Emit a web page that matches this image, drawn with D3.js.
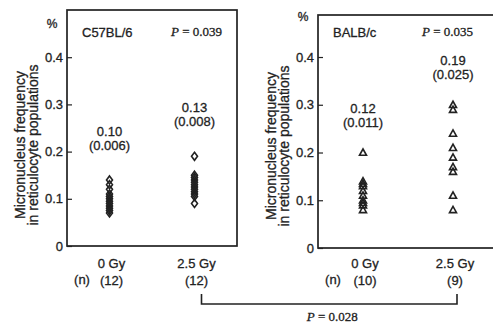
<!DOCTYPE html>
<html>
<head>
<meta charset="utf-8">
<script src="https://cdn.jsdelivr.net/npm/d3@7"></script>
<style>
	body { margin: 0; background: #fff; }
	svg { display: block; font-family: 'Liberation Sans', Arial, sans-serif; }
	svg text { stroke: #222; stroke-width: 0.3px; }
	.serif { font-family: 'Liberation Serif', 'Times New Roman', serif; }
</style>
</head>
<body>
<div id="chart"></div>
<script>
// Data
const doses = ['0 Gy', '2.5 Gy'];
const yTicks = [0, 0.1, 0.2, 0.3, 0.4];

const c57Control = [0.07, 0.075, 0.08, 0.085, 0.09, 0.095, 0.1, 0.105, 0.11, 0.12, 0.13, 0.14];
const c57Irradiated = [0.09, 0.105, 0.11, 0.115, 0.12, 0.125, 0.13, 0.135, 0.14, 0.145, 0.15, 0.19];
const c57Means = ['0.10', '0.13'];
const c57SDs = ['(0.006)', '(0.008)'];
const c57N = ['(12)', '(12)'];

const balbControl = [0.08, 0.09, 0.095, 0.1, 0.11, 0.12, 0.13, 0.135, 0.14, 0.2];
const balbIrradiated = [0.08, 0.11, 0.16, 0.17, 0.19, 0.21, 0.24, 0.29, 0.3];
const balbMeans = ['0.12', '0.19'];
const balbSDs = ['(0.011)', '(0.025)'];
const balbN = ['(10)', '(9)'];

const W = 493, H = 329;
const ink = '#222';

const svg = d3.select('#chart').append('svg').attr('width', W).attr('height', H);

// Draw one panel (strain)
function drawPanel(opt) {
	const g = svg.append('g');
	const x = d3.scalePoint().domain(doses).range([opt.left, opt.right]).padding(0.5);
	const y = d3.scaleLinear().domain([0, opt.yMax]).range([opt.bottom, opt.top]);

	// Frame
	g.append('rect')
		.attr('x', opt.left).attr('y', opt.top)
		.attr('width', opt.right - opt.left).attr('height', opt.bottom - opt.top)
		.attr('fill', 'none').attr('stroke', ink).attr('stroke-width', 1.7);

	// Y axis - inward ticks
	const axis = g.append('g')
		.attr('transform', `translate(${opt.left},0)`)
		.call(d3.axisRight(y).tickValues(yTicks).tickSize(5).tickFormat(''));
	axis.select('.domain').remove();
	axis.selectAll('line').attr('stroke', ink).attr('stroke-width', 1.2);

	g.selectAll('.ylab').data(yTicks).enter().append('text')
		.attr('x', opt.left - 4).attr('y', (d) => y(d)).attr('dy', '0.36em')
		.attr('text-anchor', 'end').attr('font-size', 13).attr('fill', ink)
		.text((d) => (d === 0 ? '0' : d3.format('.1f')(d)));

	g.append('text').attr('x', opt.left - 15).attr('y', opt.pctY)
		.attr('text-anchor', 'middle').attr('font-size', 12).attr('fill', ink).text('%');

	// Y title, two lines
	const titleLines = ['Micronucleus frequency', 'in reticulocyte populations'];
	titleLines.forEach((t, i) => {
		g.append('text')
			.attr('transform', `translate(${opt.left - 47 + i * 13.5},${opt.titleY}) rotate(-90)`)
			.attr('text-anchor', 'middle').attr('dy', '0.35em')
			.attr('font-size', 14).attr('fill', ink).text(t);
	});

	// Strain name and P value
	g.append('text').attr('x', opt.left + 15).attr('y', 37)
		.attr('font-size', 13).attr('fill', ink).text(opt.name);
	const p = g.append('text').attr('class', 'serif').attr('x', opt.left + 104).attr('y', 36)
		.attr('font-size', 13).attr('fill', ink);
	p.append('tspan').attr('font-style', 'italic').text('P');
	p.append('tspan').text(' = ' + opt.p);

	// Points
	opt.groups.forEach((vals, gi) => {
		g.selectAll('.pt' + gi).data(vals).enter().append('path')
			.attr('d', opt.symbol)
			.attr('transform', (d) => `translate(${x(doses[gi])},${y(d)})`)
			.attr('fill', 'none').attr('stroke', ink).attr('stroke-width', 1.6);

		// Mean (SD) annotation above the highest point
		const top = y(d3.max(vals)) - opt.labelGap;
		g.append('text').attr('x', x(doses[gi])).attr('y', top)
			.attr('text-anchor', 'middle').attr('font-size', 13).attr('fill', ink).text(opt.means[gi]);
		g.append('text').attr('x', x(doses[gi])).attr('y', top + 14)
			.attr('text-anchor', 'middle').attr('font-size', 13).attr('fill', ink).text(opt.sds[gi]);

		// Category labels and n
		g.append('text').attr('x', x(doses[gi]) + 2).attr('y', 268)
			.attr('text-anchor', 'middle').attr('font-size', 13).attr('fill', ink).text(doses[gi]);
		g.append('text').attr('x', x(doses[gi]) + 2).attr('y', 285)
			.attr('text-anchor', 'middle').attr('font-size', 13).attr('fill', ink).text(opt.n[gi]);
	});

	g.append('text').attr('x', opt.left + 15).attr('y', 284)
		.attr('text-anchor', 'middle').attr('font-size', 13).attr('fill', ink).text('(n)');

	return x;
}

const diamond = 'M0,-4L3,0L0,4L-3,0Z';
const triangle = 'M0,-3.5L3.5,2.8L-3.5,2.8Z';

const xLeft = drawPanel({
	left: 67, right: 237, top: 10, bottom: 246, yMax: 0.5,
	pctY: 28, titleY: 145, name: 'C57BL/6', p: '0.039',
	groups: [c57Control, c57Irradiated], means: c57Means, sds: c57SDs, n: c57N,
	symbol: diamond, labelGap: 44,
});

const xRight = drawPanel({
	left: 318, right: 498, top: 15, bottom: 248, yMax: 0.488,
	pctY: 21, titleY: 146, name: 'BALB/c', p: '0.035',
	groups: [balbControl, balbIrradiated], means: balbMeans, sds: balbSDs, n: balbN,
	symbol: triangle, labelGap: 40,
});

// Bracket between the two irradiated groups
const bx1 = xLeft('2.5 Gy') + 7;
const bx2 = xRight('2.5 Gy') + 4;
svg.append('path')
	.attr('d', `M${bx1},294V304H${bx2}V294`)
	.attr('fill', 'none').attr('stroke', ink).attr('stroke-width', 1.6);
const pb = svg.append('text').attr('class', 'serif')
	.attr('x', (bx1 + bx2) / 2 + 3).attr('y', 321)
	.attr('text-anchor', 'middle').attr('font-size', 13).attr('fill', ink);
pb.append('tspan').attr('font-style', 'italic').text('P');
pb.append('tspan').text(' = 0.028');
</script>
</body>
</html>
